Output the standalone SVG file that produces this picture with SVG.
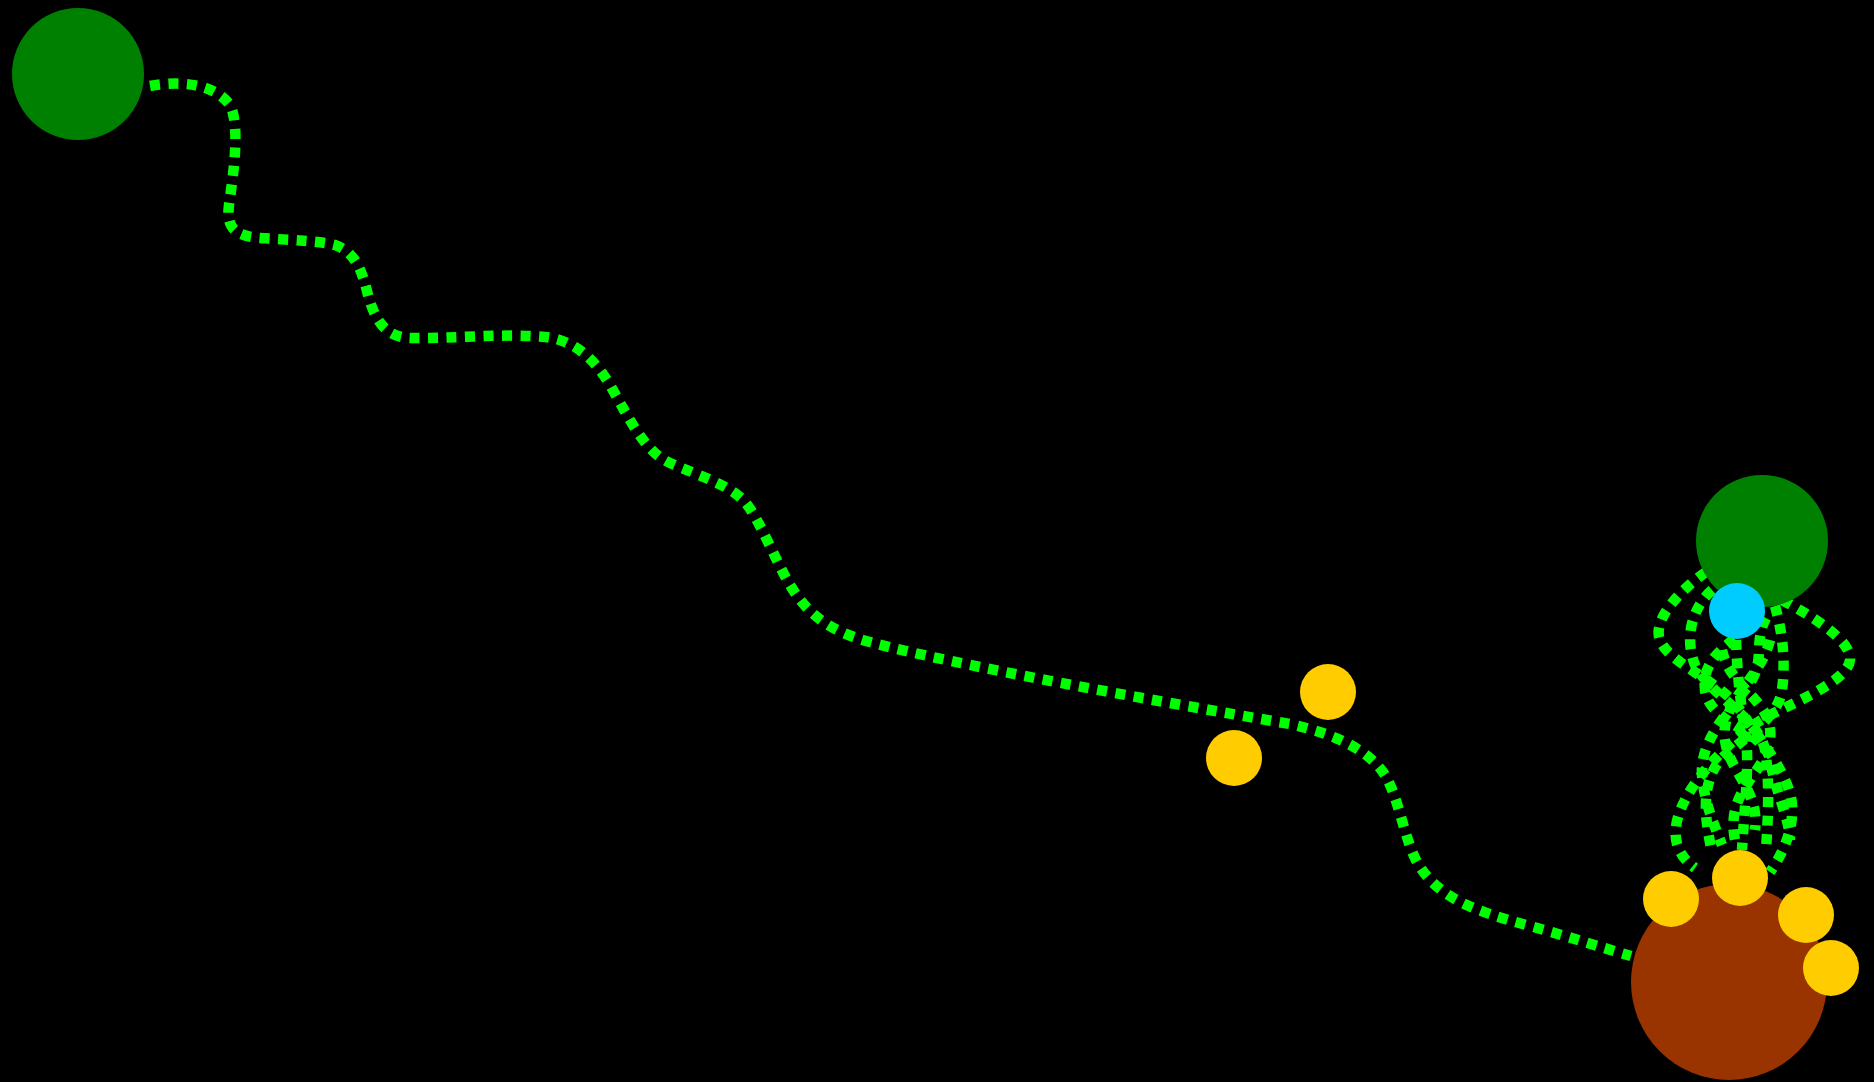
<svg xmlns="http://www.w3.org/2000/svg" width="1874" height="1082" viewBox="0 0 1874 1082">
<style>
.edge{fill:none;stroke:#00ff00;stroke-width:10.5;stroke-dasharray:10 8.5;stroke-linecap:butt}
.green{fill:#008000}
.cyan{fill:#00ccff}
.yellow{fill:#ffcc00}
.brown{fill:#993300}
</style>
<rect x="0" y="0" width="1874" height="1082" fill="#000000"/>
<g id="connectors">
<path class="edge" d="M150,86 C185,80 215,85 230,105 C240,125 234,170 229,205 C226,228 235,236 260,238 C290,240 320,241 335,245 C355,252 362,270 368,295 C375,320 385,337 410,338 C450,339 500,333 545,337 C575,340 595,360 610,385 C630,420 645,452 670,463 C700,476 730,485 745,502 C760,520 775,560 790,585 C805,610 825,630 870,642 C950,664 1150,700 1290,724 C1340,735 1370,752 1385,775 C1400,800 1405,845 1420,867 C1440,897 1470,910 1530,926 C1570,937 1600,947 1631,956"/>
<path class="edge" d="M1706,572 C1680,590 1652,620 1660,640 C1670,665 1720,680 1740,710 C1760,740 1790,775 1792,805 C1794,830 1782,855 1770,872"/>
<path class="edge" d="M1712,590 C1690,610 1685,640 1695,665 C1710,695 1760,720 1765,750 C1770,780 1768,820 1766,850"/>
<path class="edge" d="M1782,600 C1810,615 1852,640 1850,660 C1848,680 1800,700 1770,715 C1740,730 1700,770 1685,800 C1672,825 1670,850 1695,868"/>
<path class="edge" d="M1775,606 C1782,630 1786,660 1782,690 C1778,720 1740,740 1720,760 C1700,785 1705,820 1712,852"/>
<path class="edge" d="M1736,640 C1737,670 1740,700 1745,730 C1750,760 1745,800 1742,850"/>
<path class="edge" d="M1766,618 C1752,645 1768,662 1745,690 C1722,718 1700,745 1702,775 C1704,800 1712,820 1722,845"/>
<path class="edge" d="M1760,612 C1745,640 1700,650 1705,690 C1710,725 1765,730 1770,760 C1775,790 1790,820 1790,840"/>
<path class="edge" d="M1770,640 C1760,680 1720,700 1725,740 C1728,770 1760,790 1755,830"/>
<path class="edge" d="M1722,650 C1730,690 1775,700 1770,740 C1765,775 1725,790 1735,840"/>
</g>
<g id="node-green-a"><circle class="green" cx="78" cy="74" r="66"/></g>
<g id="node-green-b"><circle class="green" cx="1762" cy="541" r="66"/></g>
<g id="node-cyan"><circle class="cyan" cx="1737" cy="611" r="28"/></g>
<g id="node-brown"><circle class="brown" cx="1729" cy="982" r="98"/></g>
<g id="node-yellow-1"><circle class="yellow" cx="1328" cy="692" r="28"/></g>
<g id="node-yellow-2"><circle class="yellow" cx="1234" cy="758" r="28"/></g>
<g id="node-yellow-3"><circle class="yellow" cx="1671" cy="899" r="28"/></g>
<g id="node-yellow-4"><circle class="yellow" cx="1740" cy="878" r="28"/></g>
<g id="node-yellow-5"><circle class="yellow" cx="1806" cy="915" r="28"/></g>
<g id="node-yellow-6"><circle class="yellow" cx="1831" cy="968" r="28"/></g>
</svg>
